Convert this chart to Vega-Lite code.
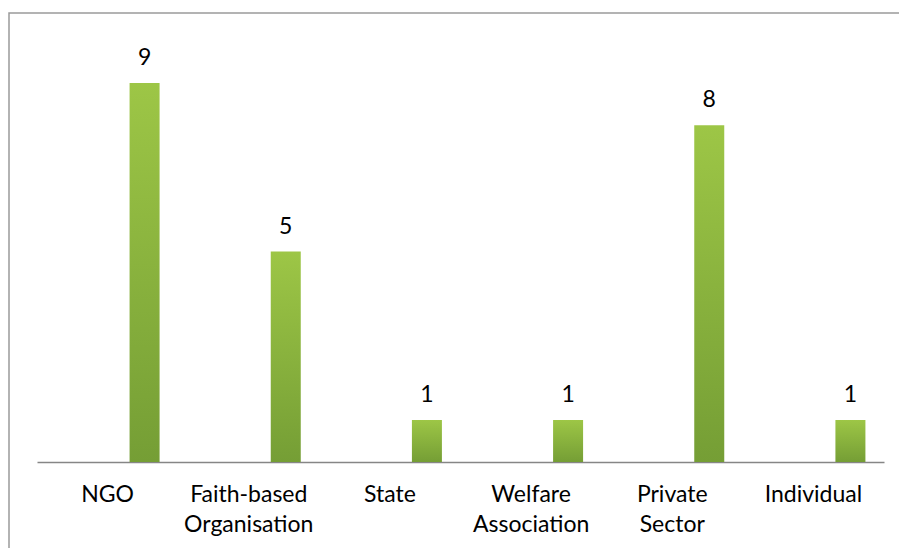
{
  "$schema": "https://vega.github.io/schema/vega-lite/v6.json",
  "autosize": {"type": "none"},
  "padding": {"left": 9, "top": 13, "right": -20, "bottom": -20},
  "width": 910,
  "height": 555,
  "background": "#ffffff",
  "config": {
    "view": {"stroke": "#9a9a9a", "strokeWidth": 1.5},
    "font": "Lato"
  },
  "data": {
    "values": [
      {"category": "NGO", "count": 9},
      {"category": "Faith-based Organisation", "count": 5},
      {"category": "State", "count": 1},
      {"category": "Welfare Association", "count": 1},
      {"category": "Private Sector", "count": 8},
      {"category": "Individual", "count": 1}
    ]
  },
  "encoding": {
    "x": {
      "field": "category",
      "type": "nominal",
      "sort": null,
      "scale": {"range": [28, 875], "paddingInner": 0, "paddingOuter": 0},
      "axis": {
        "title": null,
        "orient": "bottom",
        "offset": -106,
        "labelAngle": 0,
        "labelExpr": "split(datum.label, ' ')",
        "labelFont": "Lato",
        "labelFontSize": 23,
        "labelColor": "#000000",
        "labelLineHeight": 30,
        "labelPadding": 21,
        "labelBaseline": "top",
        "ticks": false,
        "tickSize": 0,
        "domainColor": "#868686",
        "domainWidth": 1.3,
        "grid": false
      }
    },
    "y": {
      "field": "count",
      "type": "quantitative",
      "scale": {"domain": [0, 10], "range": [449, 28], "nice": false},
      "axis": null
    }
  },
  "layer": [
    {
      "mark": {
        "type": "bar",
        "width": 30,
        "xOffset": 37,
        "fill": {
          "gradient": "linear",
          "x1": 0, "y1": 0, "x2": 0, "y2": 1,
          "stops": [
            {"offset": 0, "color": "#9dc646"},
            {"offset": 1, "color": "#759e35"}
          ]
        }
      }
    },
    {
      "mark": {
        "type": "text",
        "xOffset": 37,
        "dy": -18,
        "baseline": "alphabetic",
        "font": "Lato",
        "fontSize": 23,
        "color": "#000000"
      },
      "encoding": {
        "text": {"field": "count", "type": "quantitative"}
      }
    }
  ]
}
